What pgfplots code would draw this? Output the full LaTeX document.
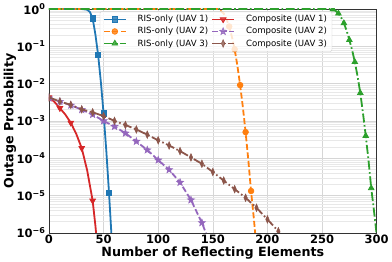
\documentclass[border=0pt]{standalone}
\usepackage{pgfplots}
\pgfplotsset{compat=1.18}
\usepackage{fontspec}
\setmainfont{DejaVu Sans}
\definecolor{c1}{HTML}{1F77B4}
\definecolor{c2}{HTML}{FF7F0E}
\definecolor{c3}{HTML}{2CA02C}
\definecolor{c4}{HTML}{D62728}
\definecolor{c5}{HTML}{9467BD}
\definecolor{c6}{HTML}{8C564B}
\pgfdeclareplotmark{fstar}{%
 \pgfpathmoveto{\pgfpointpolar{90}{\pgfplotmarksize}}%
 \pgfpathlineto{\pgfpointpolar{126}{0.42\pgfplotmarksize}}%
 \pgfpathlineto{\pgfpointpolar{162}{\pgfplotmarksize}}%
 \pgfpathlineto{\pgfpointpolar{198}{0.42\pgfplotmarksize}}%
 \pgfpathlineto{\pgfpointpolar{234}{\pgfplotmarksize}}%
 \pgfpathlineto{\pgfpointpolar{270}{0.42\pgfplotmarksize}}%
 \pgfpathlineto{\pgfpointpolar{306}{\pgfplotmarksize}}%
 \pgfpathlineto{\pgfpointpolar{342}{0.42\pgfplotmarksize}}%
 \pgfpathlineto{\pgfpointpolar{18}{\pgfplotmarksize}}%
 \pgfpathlineto{\pgfpointpolar{54}{0.42\pgfplotmarksize}}%
 \pgfpathclose
 \pgfusepathqfillstroke}
\tikzset{
 s1/.style={c1, line width=1.8pt, mark=square*, mark size=2.6pt, mark options={solid, line width=0.8pt}},
 s2/.style={c2, line width=1.8pt, dash pattern=on 6pt off 2.6pt, mark=*, mark size=2.8pt, mark options={solid, line width=0.8pt}},
 s3/.style={c3, line width=1.8pt, dash pattern=on 9pt off 2.6pt on 1.6pt off 2.6pt, mark=triangle*, mark size=3.2pt, mark options={solid, line width=0.8pt}},
 s4/.style={c4, line width=1.8pt, mark=triangle*, mark size=3.2pt, mark options={solid, rotate=180, line width=0.8pt}},
 s5/.style={c5, line width=1.8pt, dash pattern=on 6pt off 2.6pt, mark=fstar, mark size=3.8pt, mark options={solid, line width=0.5pt}},
 s6/.style={c6, line width=1.8pt, dash pattern=on 9pt off 2.6pt on 1.6pt off 2.6pt, mark=diamond*, mark size=3.8pt, mark options={solid, xscale=0.6, line width=0.5pt}},
}
\begin{document}
\begin{tikzpicture}
\begin{axis}[name=ax,
 scale only axis, width=328pt, height=224pt,
 xmin=0, xmax=300, ymin=1e-6, ymax=1, ymode=log,
 xtick={0,50,100,150,200,250,300},
 ytick={1e-6,1e-5,1e-4,1e-3,1e-2,1e-1,1},
 yticklabels={10\textsuperscript{−6},10\textsuperscript{−5},10\textsuperscript{−4},10\textsuperscript{−3},10\textsuperscript{−2},10\textsuperscript{−1},10\textsuperscript{0}},
 grid=both, minor x tick num=0,
 major grid style={draw=black!16, line width=0.5pt},
 minor grid style={draw=black!9, line width=0.4pt},
 major tick length=0pt, minor tick length=0pt,
 axis line style={black!80, line width=0.6pt},
 ticklabel style={font=\fontsize{11.5}{13}\selectfont\bfseries},
 xticklabel style={/pgf/number format/assume math mode=true, yshift=1pt},
 xlabel={Number of Reflecting Elements}, ylabel={Outage Probability},
 label style={font=\fontsize{12.7}{14}\selectfont\bfseries},
 xlabel style={at={(axis description cs:0.5,0)}, anchor=center, yshift=-20.5pt, inner sep=0pt},
 ylabel style={at={(axis description cs:0,0.5)}, anchor=center, yshift=39pt, inner sep=0pt},
 clip marker paths=true,
 legend columns=2,
 legend image code/.code={\draw[mark repeat=2,mark phase=2,#1] plot coordinates {(0pt,0pt) (11pt,0pt) (22pt,0pt)};},
 legend style={at={(axis description cs:0.155,0.99)}, anchor=north west,
   font=\fontsize{8.6}{10}\selectfont, draw=black!20, fill=white, fill opacity=0.8, text opacity=1,
   rounded corners=2pt, nodes={inner sep=2pt},
   /tikz/every even column/.append style={column sep=1pt},
   /tikz/every odd column/.append style={column sep=9pt}},
]
% RIS-only (UAV 1)
\addplot[s1, mark indices={5,7,9,11}, forget plot] coordinates {
(0,1) (30,1) (35,0.955) (37.5,0.832) (40,0.562) (42.5,0.209) (45,5.89e-2) (47.5,1.12e-2)
(50,1.58e-3) (52.5,1.58e-4) (55,1.15e-5) (57.5,6.3e-7)};
% RIS-only (UAV 2)
\addplot[s2, mark indices={5,7,9,11,13}, forget plot] coordinates {
(0,1) (155,1) (160,0.759) (162.5,0.537) (165,0.339) (167.5,0.178) (170,8.32e-2) (172.5,3.02e-2)
(175,9.12e-3) (177.5,2.34e-3) (180,5.01e-4) (182.5,8.91e-5) (185,1.32e-5) (187.5,2.51e-6) (190,3.98e-7)};
% RIS-only (UAV 3)
\addplot[s3, mark indices={3,5,7,9,11,13,15,17}, forget plot] coordinates {
(0,1) (255,1) (260,0.977) (262.5,0.891) (265,0.759) (267.5,0.589) (270,0.417) (272.5,0.263)
(275,0.148) (277.5,7.94e-2) (280,3.8e-2) (282.5,1.58e-2) (285,5.62e-3) (287.5,1.58e-3)
(290,3.98e-4) (292.5,8.91e-5) (295,1.58e-5) (297.5,3.98e-6) (300,8.9e-7)};
% Composite (UAV 1)
\addplot[s4, mark indices={1,3,5,7,9}, forget plot] coordinates {
(0,4.27e-3) (5,3.24e-3) (10,2.19e-3) (15,1.48e-3) (20,8.91e-4) (25,4.47e-4) (30,1.86e-4)
(35,4.68e-5) (40,7.24e-6) (42.5,1.58e-6) (45,2.5e-7)};
% Composite (UAV 2)
\addplot[s5, mark indices={1,2,3,4,5,6,7,8,9,10,11,12,13,14,15}, forget plot] coordinates {
(0,4.07e-3) (10,3.31e-3) (20,2.63e-3) (30,2.0e-3) (40,1.48e-3) (50,1.0e-3) (60,7.08e-4)
(70,4.68e-4) (80,2.82e-4) (90,1.66e-4) (100,8.91e-5) (110,4.9e-5) (120,2.24e-5) (130,7.59e-6)
(140,1.86e-6) (145,7.9e-7)};
% Composite (UAV 3)
\addplot[s6, mark indices={1,2,3,4,5,6,7,8,9,10,11,12,13,14,15,16,17,18,19,20,21,22}, forget plot] coordinates {
(0,4.27e-3) (10,3.31e-3) (20,2.69e-3) (30,2.04e-3) (40,1.70e-3) (50,1.35e-3) (60,1.0e-3)
(70,7.76e-4) (80,5.89e-4) (90,4.27e-4) (100,3.02e-4) (110,2.19e-4) (120,1.55e-4) (130,1.05e-4)
(140,7.08e-5) (150,4.27e-5) (160,2.51e-5) (170,1.48e-5) (180,8.71e-6) (190,4.68e-6)
(200,2.29e-6) (210,1.10e-6) (215,6.0e-7)};
\addlegendimage{s1}\addlegendentry{RIS-only (UAV 1)}
\addlegendimage{s4}\addlegendentry{Composite (UAV 1)}
\addlegendimage{s2}\addlegendentry{RIS-only (UAV 2)}
\addlegendimage{s5}\addlegendentry{Composite (UAV 2)}
\addlegendimage{s3}\addlegendentry{RIS-only (UAV 3)}
\addlegendimage{s6}\addlegendentry{Composite (UAV 3)}
\end{axis}
\path ([shift={(-49pt,-29pt)}]ax.south west) rectangle ([shift={(15pt,9pt)}]ax.north east);
\end{tikzpicture}
\end{document}
